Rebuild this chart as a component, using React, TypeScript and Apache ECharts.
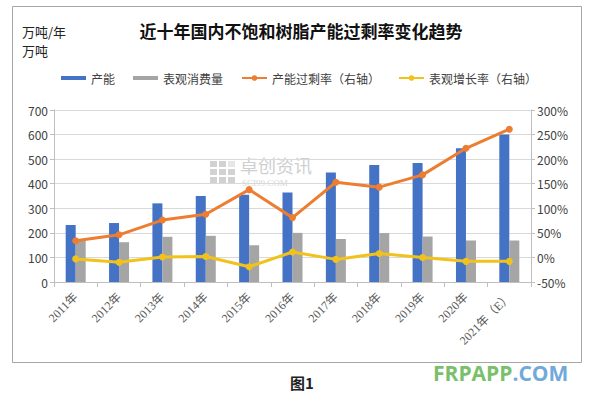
import React, { useEffect, useRef } from "react";
import * as echarts from "echarts";

const categories = ["2011年", "2012年", "2013年", "2014年", "2015年", "2016年", "2017年", "2018年", "2019年", "2020年", "2021年（E）"];
const capacity = [232, 240, 320, 350, 355, 364, 446, 476, 484, 544, 600];
const consumption = [168, 162, 184, 188, 150, 200, 175, 199, 185, 169, 169];
const overcapacityRate = [34, 46, 76, 88, 138, 81, 153, 143, 168, 222, 261];
const growthRate = [-3, -10, 1, 2, -19, 11, -4, 8, 0, -8, -8];
const leftTicks = { min: 0, max: 700, interval: 100 };
const rightTicks = { min: -50, max: 300, interval: 50 };

const C_BLUE = "#4472C4";
const C_GRAY = "#A5A5A5";
const C_ORANGE = "#ED7D31";
const C_YELLOW = "#F2C21C";

export default function App() {
  const ref = useRef<HTMLDivElement>(null);
  useEffect(() => {
    if (!ref.current) return;
    const chart = echarts.init(ref.current, undefined, { renderer: "svg" });
    const sans = "'Noto Sans CJK SC', 'Noto Sans', sans-serif";
    const wmSquares: any[] = [];
    for (let r = 0; r < 3; r++) {
      for (let c = 0; c < 3; c++) {
        wmSquares.push({
          type: "rect",
          shape: { x: 210 + c * 9, y: 161 + r * 8, width: 7, height: 6 },
          style: { fill: r === 0 && c === 2 ? "#e6e6e6" : "#d2d2d2" },
          silent: true,
        });
      }
    }
    chart.setOption({
      animation: false,
      backgroundColor: "#ffffff",
      textStyle: { fontFamily: sans },
      title: {
        text: "近十年国内不饱和树脂产能过剩率变化趋势",
        left: 296,
        top: 17,
        textAlign: "center",
        textStyle: { fontSize: 17, fontWeight: "bold", color: "#111", fontFamily: sans },
      },
      legend: {
        left: 56,
        top: 67,
        itemWidth: 25,
        itemHeight: 7,
        itemGap: 18,
        textStyle: { fontSize: 12, color: "#404040", fontFamily: sans },
        data: [
          { name: "产能", icon: "path://M0,0 H25 V4 H0 Z" },
          { name: "表观消费量", icon: "path://M0,0 H25 V4 H0 Z" },
          { name: "产能过剩率（右轴）" },
          { name: "表观增长率（右轴）" },
        ],
      },
      grid: { left: 54, right: 61, top: 110, bottom: 115 },
      xAxis: {
        type: "category",
        data: categories,
        axisLine: { lineStyle: { color: "#bfbfbf" } },
        axisTick: { show: true, lineStyle: { color: "#bfbfbf" }, length: 5 },
        axisLabel: {
          rotate: 45,
          interval: 0,
          fontSize: 12,
          color: "#595959",
          fontFamily: "'Liberation Serif', 'DejaVu Serif', 'Noto Sans CJK SC', serif",
          margin: 13,
        },
      },
      yAxis: [
        {
          type: "value",
          ...leftTicks,
          axisLine: { show: true, lineStyle: { color: "#bfbfbf" } },
          axisTick: { show: true, lineStyle: { color: "#bfbfbf" }, length: 4 },
          axisLabel: { fontSize: 12, color: "#404040", margin: 6 },
          splitLine: { lineStyle: { color: "#d9d9d9" } },
        },
        {
          type: "value",
          ...rightTicks,
          axisLine: { show: true, lineStyle: { color: "#bfbfbf" } },
          axisTick: { show: true, lineStyle: { color: "#bfbfbf" }, length: 4 },
          axisLabel: { fontSize: 12, color: "#404040", formatter: "{value}%", margin: 6 },
          splitLine: { show: false },
        },
      ],
      series: [
        {
          name: "产能",
          type: "bar",
          data: capacity,
          barWidth: 10,
          barGap: "0%",
          itemStyle: { color: C_BLUE },
        },
        {
          name: "表观消费量",
          type: "bar",
          data: consumption,
          barWidth: 10,
          barGap: "0%",
          itemStyle: { color: C_GRAY },
        },
        {
          name: "产能过剩率（右轴）",
          type: "line",
          yAxisIndex: 1,
          data: overcapacityRate,
          symbol: "circle",
          symbolSize: 7,
          lineStyle: { color: C_ORANGE, width: 3 },
          itemStyle: { color: C_ORANGE },
        },
        {
          name: "表观增长率（右轴）",
          type: "line",
          yAxisIndex: 1,
          data: growthRate,
          symbol: "circle",
          symbolSize: 7,
          lineStyle: { color: C_YELLOW, width: 3 },
          itemStyle: { color: C_YELLOW },
        },
      ],
      graphic: [
        {
          type: "rect",
          shape: { x: 12.5, y: 6.5, width: 569, height: 356 },
          style: { fill: "none", stroke: "#a6a6a6", lineWidth: 1 },
          silent: true,
          z: -10,
        },
        {
          type: "text",
          left: 22,
          top: 25,
          style: { text: "万吨/年", fontSize: 13, fill: "#222", fontFamily: sans },
        },
        {
          type: "text",
          left: 22,
          top: 44,
          style: { text: "万吨", fontSize: 13, fill: "#222", fontFamily: sans },
        },
        ...wmSquares,
        {
          type: "text",
          x: 240,
          y: 156,
          style: { text: "卓创资讯", fontSize: 18, fill: "#cfcfcf", fontFamily: sans },
          silent: true,
        },
        {
          type: "text",
          x: 242,
          y: 178,
          style: { text: "SCI99.COM", fontSize: 9, fill: "#d6d6d6", fontFamily: "'Liberation Serif', serif" },
          silent: true,
        },
        {
          type: "text",
          x: 302,
          y: 375,
          style: {
            text: "图1",
            fontSize: 15,
            fontWeight: "bold",
            fill: "#222",
            fontFamily: sans,
            align: "center",
          },
        },
        {
          type: "text",
          x: 433,
          y: 362,
          style: {
            text: "{g|FRPAPP}{b|.COM}",
            rich: {
              g: { fontSize: 21, fontWeight: "bold", fill: "#78C06A", fontFamily: "'Open Sans', 'Noto Sans', sans-serif" },
              b: { fontSize: 21, fontWeight: "bold", fill: "#72A9DA", fontFamily: "'Open Sans', 'Noto Sans', sans-serif" },
            },
          },
        },
      ],
    });
    return () => chart.dispose();
  }, []);
  return (
    <div
      ref={ref}
      style={{ position: "fixed", left: 0, top: 0, width: 592, height: 397 }}
    />
  );
}
